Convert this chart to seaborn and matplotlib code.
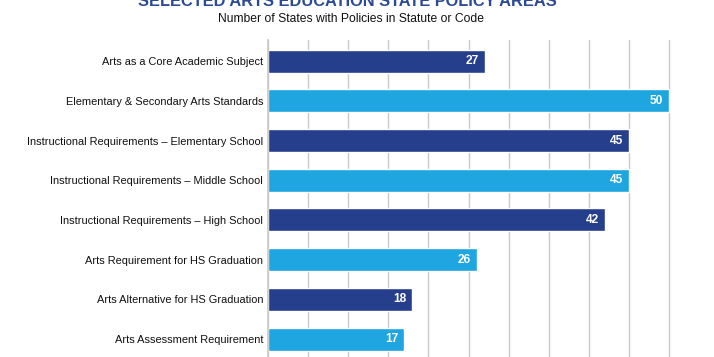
import matplotlib
matplotlib.use("Agg")
import matplotlib.pyplot as plt
import seaborn as sns
import pandas as pd

# data
categories = [
    "Arts as a Core Academic Subject",
    "Elementary & Secondary Arts Standards",
    "Instructional Requirements \u2013 Elementary School",
    "Instructional Requirements \u2013 Middle School",
    "Instructional Requirements \u2013 High School",
    "Arts Requirement for HS Graduation",
    "Arts Alternative for HS Graduation",
    "Arts Assessment Requirement",
]
states = [27, 50, 45, 45, 42, 26, 18, 17]

dark = "#263F8C"
light = "#1FA5DF"
bar_colors = [dark, light] * 4

sns.set_theme(style="white")
plt.rcParams["font.family"] = ["Liberation Sans", "DejaVu Sans"]

df = pd.DataFrame({"policy": categories, "states": states})

fig = plt.figure(figsize=(7.14, 3.57), dpi=100)
ax = fig.add_axes([268 / 714, 0, (671 - 268) / 714, 1 - 40 / 357])

sns.barplot(data=df, x="states", y="policy", hue="policy",
            palette=bar_colors, legend=False, width=0.58,
            saturation=1, ax=ax)

ax.set_xlim(0, 50 * 403 / 401)
ax.set_ylim(7.45, -0.53)
ax.set_xticks(range(0, 51, 5))
ax.set_xticklabels([])
ax.xaxis.grid(True, color="#C9C9C9", linewidth=1)
ax.set_axisbelow(True)
ax.tick_params(axis="both", length=0)
ax.tick_params(axis="y", labelsize=7.9, pad=3.5, labelcolor="#111111")
ax.set_xlabel("")
ax.set_ylabel("")
for side in ["top", "right", "bottom"]:
    ax.spines[side].set_visible(False)
ax.spines["left"].set_color("#C9C9C9")

for i, v in enumerate(states):
    ax.text(v - 0.75, i, str(v), ha="right", va="center", color="white",
            fontsize=8.6, fontweight="bold")

fig.text(347 / 714, 1 - 2 / 357, "SELECTED ARTS EDUCATION STATE POLICY AREAS",
         ha="center", va="center", fontsize=11.8, fontweight="bold", color="#2B4A93")
fig.text(351 / 714, 1 - 19 / 357, "Number of States with Policies in Statute or Code",
         ha="center", va="center", fontsize=8.7, color="#111111")

fig.savefig("out.png", dpi=100)
